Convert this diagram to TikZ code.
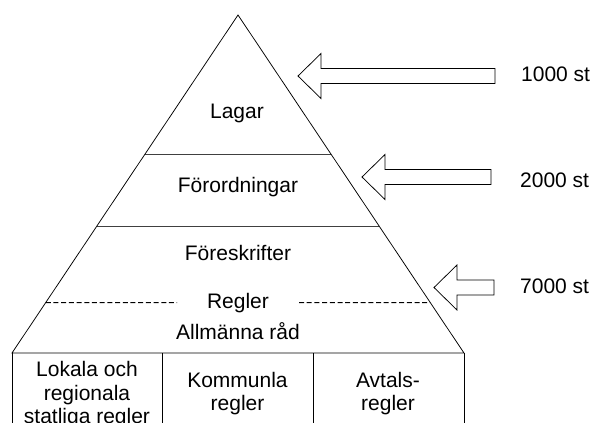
\documentclass[tikz,border=0pt]{standalone}
\usepackage{fontspec}
\setmainfont{Liberation Sans}
\usetikzlibrary{calc}
\begin{document}
\begin{tikzpicture}[x=1pt,y=-1pt,
  outline/.style={draw=black,line width=0.75pt},
  divider/.style={draw=black!75,line width=0.75pt},
  dashsep/.style={draw=black,line width=1pt,dash pattern=on 5pt off 2.7pt},
  label/.style={inner sep=0pt,anchor=base,font=\fontsize{21}{22.8}\selectfont},
  boxlabel/.style={label,align=center},
  count/.style={inner sep=0pt,anchor=base west,font=\fontsize{21}{22.8}\selectfont},
  pics/blockarrow/.style={code={
    \draw[outline,fill=white] (0,0) -- (23,-22.5) -- (23,-7.5) -- (#1,-7.5)
      -- (#1,7.5) -- (23,7.5) -- (23,22.5) -- cycle;}}]
\useasboundingbox (0,0) rectangle (592,423);
\clip (0,0) rectangle (592,423);

% pyramid corners
\coordinate (apex) at (238,15);
\coordinate (bl) at (12,353);
\coordinate (br) at (464,353);

% level boundaries along the sides
\coordinate (l1) at ($(apex)!0.411!(bl)$);
\coordinate (r1) at ($(apex)!0.411!(br)$);
\coordinate (l2) at ($(apex)!0.6257!(bl)$);
\coordinate (r2) at ($(apex)!0.6257!(br)$);
\coordinate (l3) at ($(apex)!0.8506!(bl)$);
\coordinate (r3) at ($(apex)!0.8506!(br)$);

\draw[divider] (l1) -- (r1);
\draw[divider] (l2) -- (r2);
\draw[dashsep] (l3) -- (177,302.5);
\draw[dashsep] (299,302.5) -- (r3);
\draw[outline,line join=miter] (bl) -- (apex) -- (br) -- cycle;

% lower row of rule categories
\coordinate (bbl) at (12,450);
\coordinate (bbr) at (464,450);
\draw[outline] (bl) -- (bbl) (br) -- (bbr);
\draw[outline] (162,353) -- (162,450);
\draw[outline] (313,353) -- (313,450);

% level labels
\node[label] (lagar) at (237,118) {Lagar};
\node[label] (forordningar) at (238,192) {Förordningar};
\node[label] (foreskrifter) at (238,260) {Föreskrifter};
\node[label] (regler) at (238,308) {Regler};
\node[label] (allmanna) at (238,339) {Allmänna råd};

% multi-line labels sit on the baseline of their last line
\node[boxlabel,font=\fontsize{21}{23.5}\selectfont] (lokala) at (87,423.5)
  {Lokala och\\regionala\\statliga regler};
\node[boxlabel] (kommunala) at (237.5,410) {Kommunla\\regler};
\node[boxlabel] (avtal) at (388,410) {Avtals-\\regler};

% counts with arrows
\pic at (298,76) {blockarrow=197};
\pic at (362,177) {blockarrow=129};
\pic at (434,287.5) {blockarrow=60};
\node[count] (c1000) at (521,81) {1000 st};
\node[count] (c2000) at (520,187) {2000 st};
\node[count] (c7000) at (520,293) {7000 st};
\end{tikzpicture}
\end{document}
